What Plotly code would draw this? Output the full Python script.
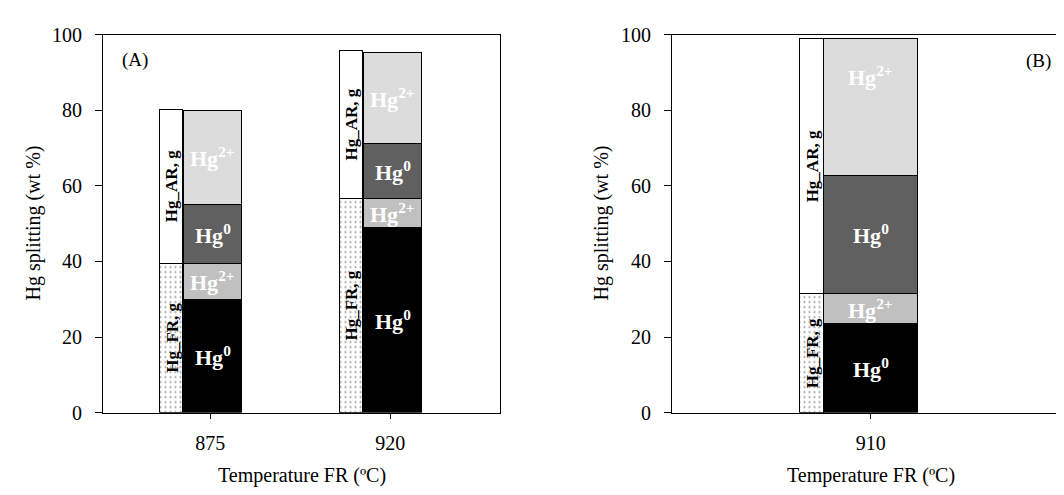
import plotly.graph_objects as go

# ---------------- data ----------------
temps_A = ["875", "920"]
temps_B = ["910"]

# speciation in main bars (wt %)
fr_hg0_A = [30.0, 49.0]
fr_hg2_A = [9.5, 7.5]
ar_hg0_A = [15.5, 14.8]
ar_hg2_A = [25.0, 24.0]

fr_hg0_B = [23.5]
fr_hg2_B = [8.0]
ar_hg0_B = [31.3]
ar_hg2_B = [36.2]

# gas totals in narrow bars (wt %)
fr_gas_A = [39.5, 56.5]
ar_gas_A = [40.7, 39.3]
fr_gas_B = [31.4]
ar_gas_B = [67.5]

SERIF = "Liberation Serif"

fig = go.Figure()

def add_panel(xa, ya, cats, fr0, fr2, ar0, ar2, frg, arg, main_off, main_w, nar_off, nar_w):
    pos = list(range(len(cats)))
    xm = [p + main_off for p in pos]
    xn = [p + nar_off for p in pos]
    line = dict(color="black", width=1)
    for vals, col in [(fr0, "#000000"), (fr2, "#c0c0c0"), (ar0, "#606060"), (ar2, "#dcdcdc")]:
        fig.add_trace(go.Bar(x=xm, y=vals, width=main_w, xaxis=xa, yaxis=ya,
                             marker=dict(color=col, line=line), showlegend=False,
                             hoverinfo="skip"))
    fig.add_trace(go.Bar(x=xn, y=frg, width=nar_w, xaxis=xa, yaxis=ya,
                         marker=dict(color="white", line=line,
                                     pattern=dict(shape=".", size=5, solidity=0.15,
                                                  fgcolor="#333333", bgcolor="white")),
                         showlegend=False, hoverinfo="skip"))
    fig.add_trace(go.Bar(x=xn, y=arg, width=nar_w, xaxis=xa, yaxis=ya,
                         marker=dict(color="white", line=line), showlegend=False,
                         hoverinfo="skip"))
    anns = []
    for i in range(len(cats)):
        b1 = fr0[i]
        b2 = b1 + fr2[i]
        b3 = b2 + ar0[i]
        b4 = b3 + ar2[i]
        segs = [(b1 / 2, "Hg<sup>0</sup>"), ((b1 + b2) / 2, "Hg<sup>2+</sup>"),
                ((b2 + b3) / 2, "Hg<sup>0</sup>"), ((b3 + b4) / 2, "Hg<sup>2+</sup>")]
        for yy, t in segs:
            anns.append(dict(x=xm[i], y=yy, xref=xa, yref=ya, text="<b>" + t + "</b>",
                             xanchor="center", yanchor="middle",
                             showarrow=False, font=dict(family=SERIF, size=22, color="white")))
        anns.append(dict(x=xn[i], y=frg[i] / 2, xref=xa, yref=ya, text="<b>Hg_FR, g</b>",
                         textangle=-90, showarrow=False, xanchor="center", yanchor="middle",
                         font=dict(family=SERIF, size=17, color="black")))
        anns.append(dict(x=xn[i], y=frg[i] + arg[i] / 2, xref=xa, yref=ya, text="<b>Hg_AR, g</b>",
                         textangle=-90, showarrow=False, xanchor="center", yanchor="middle",
                         font=dict(family=SERIF, size=17, color="black")))
    return anns

annsA = add_panel("x", "y", temps_A, fr_hg0_A, fr_hg2_A, ar_hg0_A, ar_hg2_A,
                  fr_gas_A, ar_gas_A, 0.015, 0.325, -0.214, 0.13)
annsB = add_panel("x2", "y2", temps_B, fr_hg0_B, fr_hg2_B, ar_hg0_B, ar_hg2_B,
                  fr_gas_B, ar_gas_B, 0.0, 0.522, -0.326, 0.132)
# top label of panel B sits higher in the segment
annsB[3]["y"] = 89

H = 495.0
ytop, ybot = 16.3, 412.0
ydom = [1 - ybot / H, 1 - ytop / H]

axis_common = dict(showline=True, linecolor="black", linewidth=1, mirror=True,
                   ticks="outside", tickcolor="black", tickwidth=1,
                   showgrid=False, zeroline=False,
                   tickfont=dict(family=SERIF, size=20, color="black"))

fig.update_layout(
    width=1064, height=495,
    margin=dict(l=0, r=0, t=0, b=0),
    paper_bgcolor="white", plot_bgcolor="white",
    barmode="stack", bargap=0,
    xaxis=dict(domain=[95 / 1064, 492 / 1064], range=[-0.596, 1.61],
               tickvals=[0, 1], ticktext=temps_A, ticklen=5, ticklabelstandoff=7,
               **axis_common),
    yaxis=dict(domain=ydom, range=[0, 100], tickvals=[0, 20, 40, 60, 80, 100],
               ticklen=7, ticklabelstandoff=9, **axis_common),
    xaxis2=dict(domain=[664 / 1064, 1061 / 1064], range=[-1.104, 1.102],
                tickvals=[0], ticktext=temps_B, ticklen=5, ticklabelstandoff=7,
                anchor="y2", **axis_common),
    yaxis2=dict(domain=ydom, range=[0, 100], tickvals=[0, 20, 40, 60, 80, 100],
                ticklen=7, ticklabelstandoff=9, anchor="x2", **axis_common),
)

title_font = dict(family=SERIF, size=20, color="black")
extra = [
    dict(x=25 / 1064, y=1 - 214 / H, xref="paper", yref="paper", text="Hg splitting (wt %)",
         textangle=-90, showarrow=False, xanchor="center", yanchor="middle", font=title_font),
    dict(x=593 / 1064, y=1 - 214 / H, xref="paper", yref="paper", text="Hg splitting (wt %)",
         textangle=-90, showarrow=False, xanchor="center", yanchor="middle", font=title_font),
    dict(x=(95 + 492) / 2 / 1064, y=1 - 478 / H, xref="paper", yref="paper",
         text="Temperature FR (ºC)", showarrow=False, xanchor="center", yanchor="middle",
         font=title_font),
    dict(x=(664 + 1061) / 2 / 1064, y=1 - 478 / H, xref="paper", yref="paper",
         text="Temperature FR (ºC)", showarrow=False, xanchor="center", yanchor="middle",
         font=title_font),
    dict(x=0.08, y=93.2, xref="x domain", yref="y", text="(A)", showarrow=False,
         xanchor="center", yanchor="middle", font=dict(family=SERIF, size=19, color="black")),
    dict(x=0.922, y=93, xref="x2 domain", yref="y2", text="(B)", showarrow=False,
         xanchor="center", yanchor="middle", font=dict(family=SERIF, size=19, color="black")),
]
fig.update_layout(annotations=annsA + annsB + extra)

fig.write_html("out.html")
